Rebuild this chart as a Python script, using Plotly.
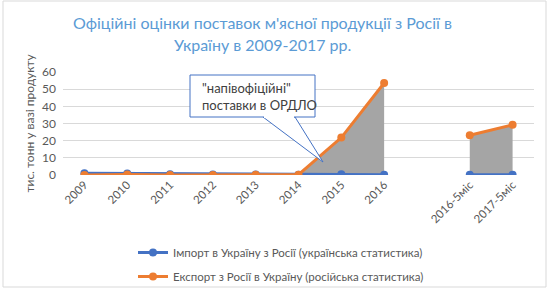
import plotly.graph_objects as go

categories = ["2009", "2010", "2011", "2012", "2013", "2014", "2015", "2016", " ", "2016-5міс", "2017-5міс"]
import_ua = [1.0, 0.9, 0.5, 0.3, 0.3, 0.2, 0.4, 0.2, None, 0.2, 0.2]
export_ru = [0.0, 0.3, 0.0, 0.0, 0.1, 0.2, 21.8, 53.6, None, 23.2, 29.2]
shade_mask = [False, False, False, False, False, True, True, True, False, True, True]

title_lines = ["Офіційні оцінки поставок м'ясної продукції з Росії в", "Україну в 2009-2017 рр."]
y_title = "тис. тонн у вазі продукту"
callout_text = "\"напівофіційні\"<br>поставки в ОРДЛО"
name_import = "Імпорт в Україну з Росії (українська статистика)"
name_export = "Експорт з Росії в Україну (російська статистика)"

BLUE = "#4472C4"
ORANGE = "#ED7D31"
GRAY = "#595959"
FONT = "Lato, sans-serif"

fig = go.Figure()

# shaded segments (consecutive masked points)
segments, cur = [], []
for i, m in enumerate(shade_mask):
    if m:
        cur.append(i)
    elif cur:
        segments.append(cur)
        cur = []
if cur:
    segments.append(cur)
for seg in segments:
    fig.add_trace(go.Scatter(x=[categories[i] for i in seg], y=[export_ru[i] for i in seg],
                             mode="none", fill="tozeroy", fillcolor="#A5A5A5",
                             showlegend=False, hoverinfo="skip"))

fig.add_trace(go.Scatter(x=categories, y=import_ua, mode="lines+markers", name=name_import,
                         legendgroup="a",
                         line=dict(color=BLUE, width=3), marker=dict(color=BLUE, size=8)))
fig.add_trace(go.Scatter(x=categories, y=export_ru, mode="lines+markers", name=name_export,
                         legendgroup="b",
                         line=dict(color=ORANGE, width=3), marker=dict(color=ORANGE, size=8)))

W, H = 550, 289
ml, mr, mt, mb = 63, 16, 72, 114
pw, ph = W - ml - mr, H - mt - mb

def px(x):
    return (x - ml) / pw

def py(y):
    return (H - mb - y) / ph

# callout pointer + box
fig.add_shape(type="path", xref="paper", yref="paper",
              path=f"M {px(263)} {py(117)} L {px(323)} {py(162)} L {px(295)} {py(117)} Z",
              line=dict(color=BLUE, width=1), fillcolor="white", layer="above")
fig.add_shape(type="rect", xref="paper", yref="paper",
              x0=px(190), x1=px(315), y0=py(117), y1=py(75),
              line=dict(color=BLUE, width=1), fillcolor="white", layer="above")
fig.add_shape(type="line", xref="paper", yref="paper",
              x0=px(264), x1=px(294), y0=py(117), y1=py(117),
              line=dict(color="white", width=2), layer="above")
fig.add_annotation(xref="paper", yref="paper", x=px(200), y=py(96), text=callout_text,
                   showarrow=False, xanchor="left", yanchor="middle", align="left",
                   font=dict(family=FONT, size=13, color="#404040"))
# title lines
for txt, yy in zip(title_lines, [22, 45]):
    fig.add_annotation(xref="paper", yref="paper", x=px(262), y=py(yy), text=txt,
                       showarrow=False, xanchor="center", yanchor="middle",
                       font=dict(family=FONT, size=16, color="#5B9BD5"))
# outer border
fig.add_shape(type="rect", xref="paper", yref="paper",
              x0=px(3), x1=px(546), y0=py(287), y1=py(1),
              line=dict(color="#D9D9D9", width=1), fillcolor="rgba(0,0,0,0)")

fig.update_layout(
    width=W, height=H,
    margin=dict(l=ml, r=mr, t=mt, b=mb, autoexpand=False),
    paper_bgcolor="white", plot_bgcolor="white",
    font=dict(family=FONT, color=GRAY),
    xaxis=dict(type="category", categoryorder="array", categoryarray=categories,
               range=[-0.5, len(categories) - 0.5], automargin=False,
               tickangle=-45, tickfont=dict(size=11.5, color=GRAY), showgrid=False,
               showline=False, zeroline=False, ticks=""),
    yaxis=dict(range=[0, 60], dtick=10, gridcolor="#D9D9D9", gridwidth=1, zeroline=False,
               showline=False, tickfont=dict(size=12, color=GRAY), automargin=False,
               ticklabelstandoff=6,
               title=dict(text=y_title, font=dict(size=12, color=GRAY), standoff=4)),
    legend=dict(orientation="v", x=px(133), xanchor="left", y=py(238), yanchor="top",
                font=dict(size=11.5, color=GRAY), bgcolor="rgba(0,0,0,0)", tracegroupgap=5),
    showlegend=True,
)

fig.write_html("out.html")
